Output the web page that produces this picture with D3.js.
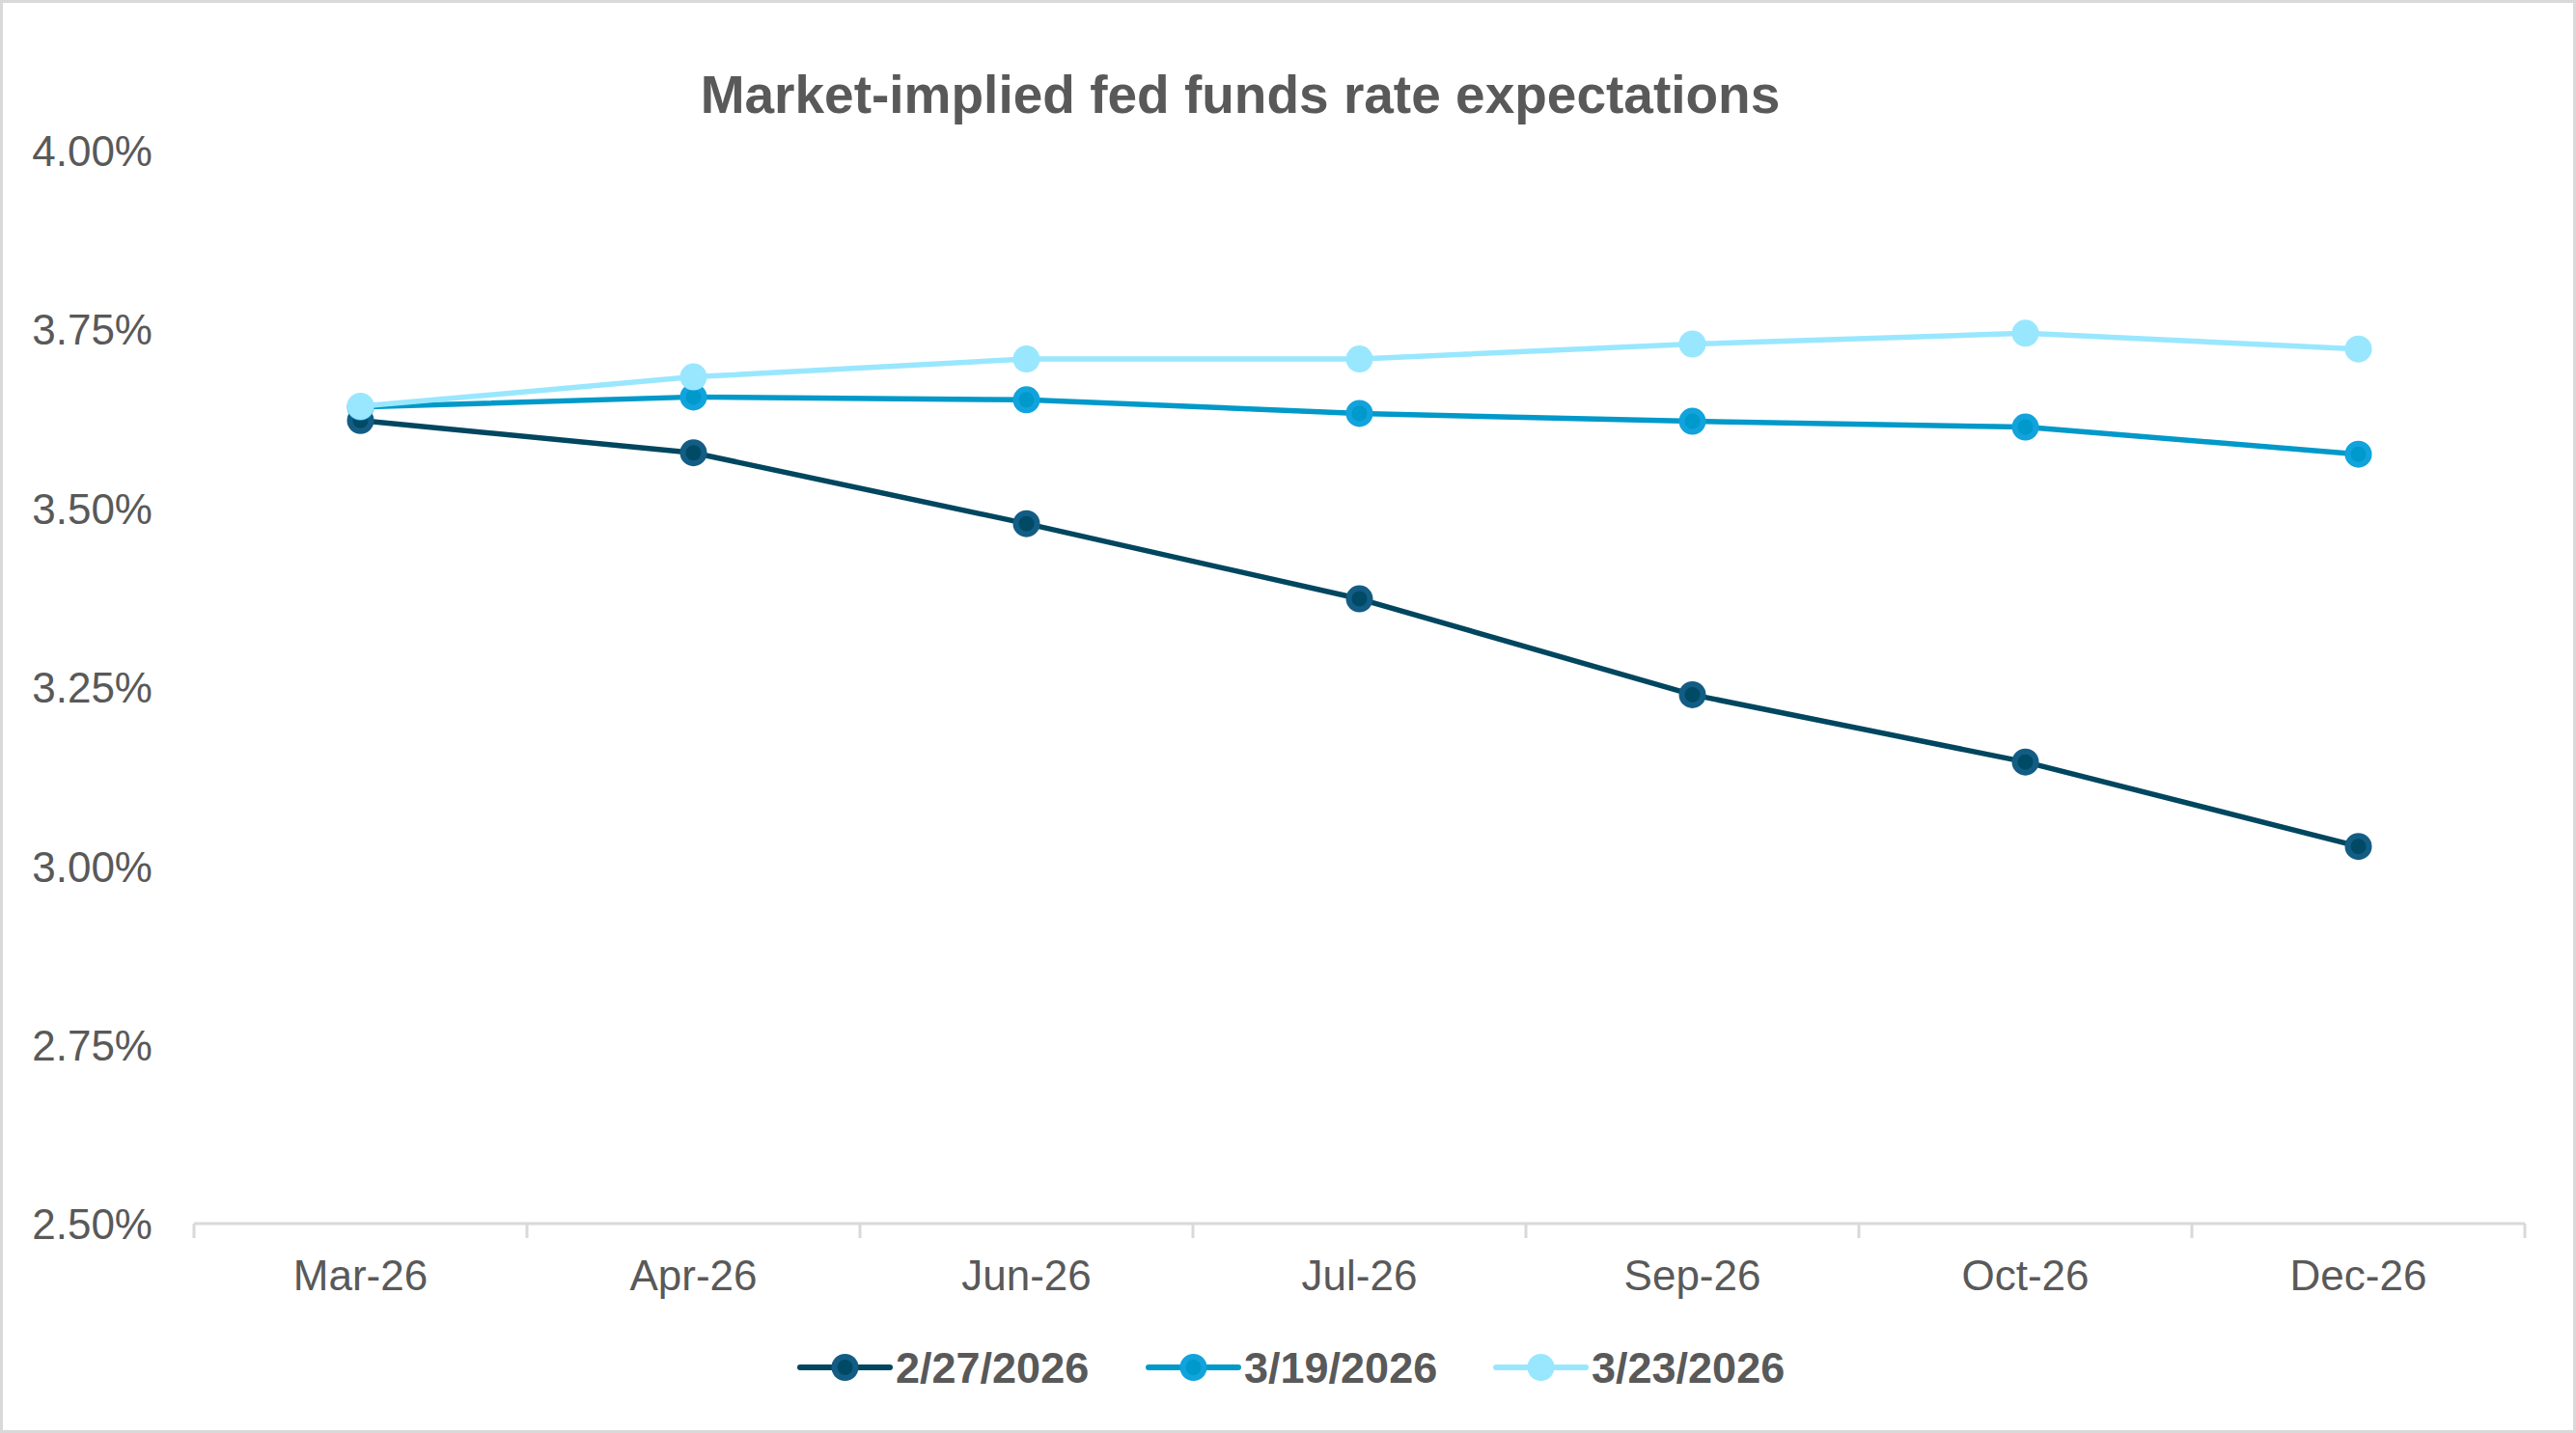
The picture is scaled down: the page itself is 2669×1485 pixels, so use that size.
<!DOCTYPE html>
<html>
<head>
<meta charset="utf-8">
<script src="https://cdn.jsdelivr.net/npm/d3@7"></script>
<style>
  html, body { margin: 0; padding: 0; background: #fff; }
  svg { display: block; font-family: "Liberation Sans", Arial, sans-serif; }
</style>
</head>
<body>
<div id="chart"></div>
<script>
// data
var months = ["Mar-26", "Apr-26", "Jun-26", "Jul-26", "Sep-26", "Oct-26", "Dec-26"];
var series_0227 = [3.622, 3.577, 3.478, 3.373, 3.239, 3.145, 3.027];
var series_0319 = [3.641, 3.655, 3.651, 3.632, 3.621, 3.613, 3.575];
var series_0323 = [3.642, 3.683, 3.708, 3.708, 3.729, 3.744, 3.722];
var seriesNames = ["2/27/2026", "3/19/2026", "3/23/2026"];
var yTicks = [2.5, 2.75, 3.0, 3.25, 3.5, 3.75, 4.0];

var width = 2669, height = 1485;
var textColor = "#595959";
var axisColor = "#d9d9d9";

var styles = [
  { line: "#00465f", ring: "#135d84", fill: "#004a66" },
  { line: "#0099c9", ring: "#11a3dc", fill: "#0099cc" },
  { line: "#99e7fe", ring: "#99e7fe", fill: "#99e7fe" }
];

var allSeries = [series_0227, series_0319, series_0323].map(function(vals, i) {
  return {
    name: seriesNames[i],
    style: styles[i],
    values: vals.map(function(v, j) { return { x: months[j], y: v }; })
  };
});

var svg = d3.select("#chart")
  .append("svg")
  .attr("width", width)
  .attr("height", height);

// chart border
svg.append("rect")
  .attr("x", 1.5).attr("y", 1.5)
  .attr("width", width - 3).attr("height", height - 3)
  .attr("fill", "#fff")
  .attr("stroke", axisColor)
  .attr("stroke-width", 3);

var x = d3.scaleBand()
  .domain(months)
  .range([201, 2616])
  .padding(0);

var y = d3.scaleLinear()
  .domain([2.5, 4.0])
  .range([1268, 155.5]);

function cx(d) { return x(d.x) + x.bandwidth() / 2; }

// title
svg.append("text")
  .attr("x", 1285)
  .attr("y", 117)
  .attr("text-anchor", "middle")
  .attr("font-size", "55px")
  .attr("font-weight", "bold")
  .attr("fill", textColor)
  .text("Market-implied fed funds rate expectations");

// y axis labels
var yAxis = svg.append("g")
  .attr("transform", "translate(158,0)")
  .call(d3.axisLeft(y).tickValues(yTicks).tickSize(0).tickPadding(0)
    .tickFormat(function(d) { return d3.format(".2f")(d) + "%"; }));
yAxis.select(".domain").remove();
yAxis.selectAll("text")
  .attr("font-size", "44px")
  .attr("fill", textColor)
  .attr("font-family", "Liberation Sans, Arial, sans-serif")
  .attr("dy", "0.36em");

// x axis
var xAxis = svg.append("g")
  .attr("transform", "translate(0," + y(2.5) + ")")
  .call(d3.axisBottom(x).tickSize(0).tickPadding(0));
xAxis.select(".domain").remove();
xAxis.selectAll("text")
  .attr("font-size", "44px")
  .attr("fill", textColor)
  .attr("font-family", "Liberation Sans, Arial, sans-serif")
  .attr("dy", null)
  .attr("y", 69);

svg.append("line")
  .attr("x1", x.range()[0]).attr("x2", x.range()[1])
  .attr("y1", y(2.5)).attr("y2", y(2.5))
  .attr("stroke", axisColor)
  .attr("stroke-width", 3);

var tickPos = months.map(function(m) { return x(m); }).concat([x.range()[1]]);
svg.selectAll(".xtick")
  .data(tickPos)
  .enter()
  .append("line")
  .attr("class", "xtick")
  .attr("x1", function(d) { return d; })
  .attr("x2", function(d) { return d; })
  .attr("y1", y(2.5))
  .attr("y2", y(2.5) + 15)
  .attr("stroke", axisColor)
  .attr("stroke-width", 3);

// lines and markers
var line = d3.line()
  .x(cx)
  .y(function(d) { return y(d.y); });

allSeries.forEach(function(s) {
  var g = svg.append("g");
  g.append("path")
    .datum(s.values)
    .attr("d", line)
    .attr("fill", "none")
    .attr("stroke", s.style.line)
    .attr("stroke-width", 5.5)
    .attr("stroke-linejoin", "round");

  g.selectAll("circle")
    .data(s.values)
    .enter()
    .append("circle")
    .attr("cx", cx)
    .attr("cy", function(d) { return y(d.y); })
    .attr("r", 11)
    .attr("fill", s.style.fill)
    .attr("stroke", s.style.ring)
    .attr("stroke-width", 6);
});

// legend
var legendX = [829, 1190, 1550];
var legendY = 1417;

var legend = svg.selectAll(".legend")
  .data(allSeries)
  .enter()
  .append("g")
  .attr("class", "legend")
  .attr("transform", function(d, i) { return "translate(" + legendX[i] + "," + legendY + ")"; });

legend.append("line")
  .attr("x1", 0).attr("x2", 93)
  .attr("y1", 0).attr("y2", 0)
  .attr("stroke", function(d) { return d.style.line; })
  .attr("stroke-width", 6)
  .attr("stroke-linecap", "round");

legend.append("circle")
  .attr("cx", 46.5)
  .attr("cy", 0)
  .attr("r", 11)
  .attr("fill", function(d) { return d.style.fill; })
  .attr("stroke", function(d) { return d.style.ring; })
  .attr("stroke-width", 6);

legend.append("text")
  .attr("x", 99)
  .attr("y", 16)
  .attr("font-size", "45px")
  .attr("font-weight", "bold")
  .attr("fill", textColor)
  .text(function(d) { return d.name; });
</script>
</body>
</html>
